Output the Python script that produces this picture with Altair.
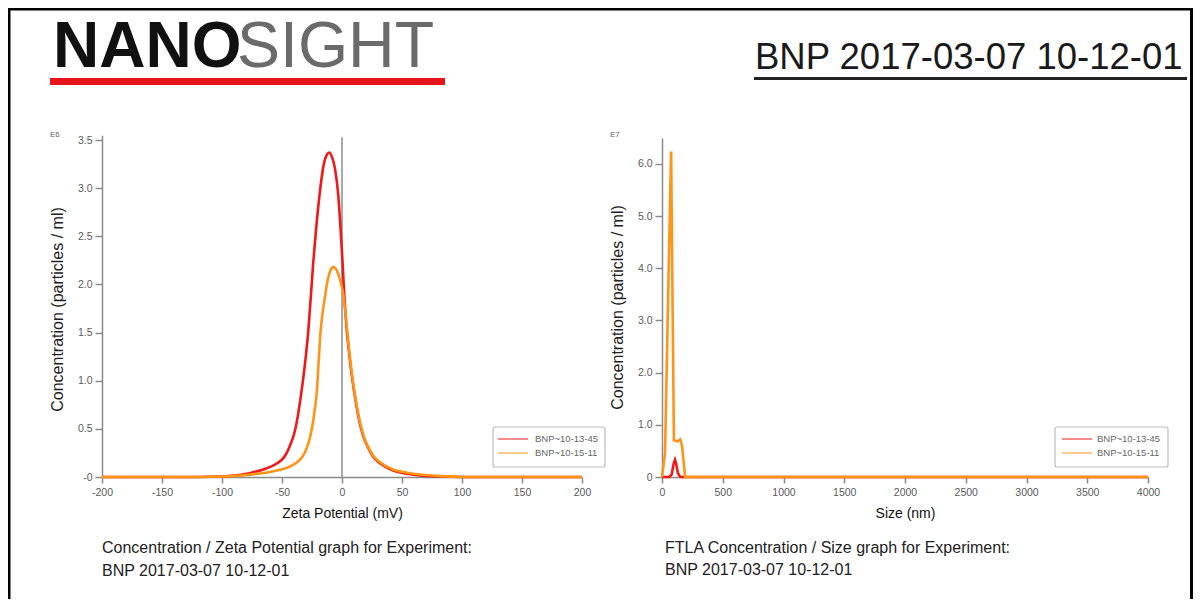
import altair as alt
import pandas as pd

FONT = "Liberation Sans"
W, H = 1185, 591

# ---------------- text content ----------------
brand_bold = "NANO"
brand_light = "SIGHT"
experiment_title = "BNP 2017-03-07 10-12-01"
caption_left = ["Concentration / Zeta Potential graph for Experiment:", "BNP 2017-03-07 10-12-01"]
caption_right = ["FTLA Concentration / Size graph for Experiment:", "BNP 2017-03-07 10-12-01"]
y_title = "Concentration (particles / ml)"
x_title_left = "Zeta Potential (mV)"
x_title_right = "Size (nm)"
exp_left = "E6"
exp_right = "E7"

series_names = ["BNP~10-13-45", "BNP~10-15-11"]
series_colors = ["#f01818", "#ff9416"]

# ---------------- ticks ----------------
zeta_ticks = [-200, -150, -100, -50, 0, 50, 100, 150, 200]
zeta_conc_ticks = [0, 0.5, 1.0, 1.5, 2.0, 2.5, 3.0, 3.5]
size_ticks = [0, 500, 1000, 1500, 2000, 2500, 3000, 3500, 4000]
size_conc_ticks = [0, 1, 2, 3, 4, 5, 6]

# ---------------- data (E6 particles/ml vs mV) ----------------
zeta_red_mv = [-200, -120, -100, -77, -65, -54.4, -48, -43.9, -39, -34.4, -30.8, -28, -26, -24,
               -21.7, -18.9, -15, -12.5, -10.5, -8.5, -5.8, -3, -1.1, 0.5, 1.7, 3, 4, 5.5, 7, 9,
               11, 13.5, 16.4, 19, 22, 26, 32, 42, 54, 75, 100, 200]
zeta_red_conc = [0, 0, 0.005, 0.04, 0.08, 0.14, 0.21, 0.31, 0.49, 0.83, 1.18, 1.53, 1.87, 2.22,
                 2.56, 2.91, 3.26, 3.35, 3.37, 3.33, 3.2, 2.91, 2.56, 2.22, 1.93, 1.68, 1.52, 1.34,
                 1.17, 0.98, 0.82, 0.64, 0.48, 0.38, 0.3, 0.21, 0.14, 0.07, 0.035, 0.008, 0, 0]

zeta_orange_mv = [-200, -120, -100, -77, -57, -45, -37.8, -33, -29.4, -27.3, -25.3, -23.8, -22.3,
                  -21, -19.7, -17.8, -16, -14.2, -13, -11.7, -9.5, -7.5, -5, -3, -1, 1, 2.5, 4,
                  5.5, 7, 9, 11, 13.5, 16.4, 19, 22, 26, 32, 42, 54, 80, 100, 200]
zeta_orange_conc = [0, 0, 0.005, 0.025, 0.06, 0.1, 0.15, 0.21, 0.3, 0.38, 0.49, 0.6, 0.74,
                    0.88, 1.15, 1.52, 1.72, 1.87, 1.97, 2.06, 2.15, 2.18, 2.16, 2.1, 2.02, 1.9,
                    1.75, 1.56, 1.37, 1.2, 1.0, 0.84, 0.66, 0.5, 0.39, 0.31, 0.22, 0.15, 0.08,
                    0.045, 0.012, 0, 0]

# ---------------- data (E7 particles/ml vs nm) ----------------
size_red_nm = [0, 60, 80, 95, 107, 117, 130, 150, 4000]
size_red_conc = [0, 0, 0.05, 0.25, 0.33, 0.25, 0.08, 0, 0]

size_orange_nm = [0, 25, 50, 75, 98, 110, 125, 150, 165, 190, 4000]
size_orange_conc = [0, 0.45, 3.4, 6.24, 0.7, 0.7, 0.68, 0.72, 0.6, 0, 0]

zero_line_mv = [0]
zero_line_top = [3.53]

# ---------------- helpers ----------------
dummy = pd.DataFrame({"k": [0]})
color_scale = alt.Scale(domain=series_names, range=series_colors)


def txt(s, x, y, size, color="#222222", weight="normal", align="left", baseline="alphabetic"):
    return alt.Chart(dummy).mark_text(
        text=s, fontSize=size, color=color, fontWeight=weight, align=align,
        baseline=baseline, font=FONT
    ).encode(x=alt.value(x), y=alt.value(y))


def box(x1, x2, y1, y2, color, **kw):
    return alt.Chart(dummy).mark_rect(color=color, **kw).encode(
        x=alt.value(x1), x2=alt.value(x2), y=alt.value(y1), y2=alt.value(y2))


def axis_x(values, title, offset):
    return alt.Axis(orient="bottom", offset=offset, values=values, grid=False,
                    labelExpr="datum.value + ''",
                    labelFont=FONT, labelFontSize=10.5, labelColor="#5a5a5a", labelPadding=4,
                    labelFlush=False, labelOverlap=False,
                    domainColor="#8c8c8c", domainWidth=1.5, tickColor="#8c8c8c", tickWidth=1.5,
                    tickSize=6, title=title, titleFont=FONT, titleFontSize=14,
                    titleFontWeight="normal", titleColor="#111111", titleY=40,
                    titleBaseline="alphabetic")


def axis_y(values, offset, zero_label, title_y):
    return alt.Axis(orient="left", offset=offset, values=values, grid=False,
                    labelExpr=f"datum.value == 0 ? '{zero_label}' : format(datum.value, '.1f')",
                    labelFont=FONT, labelFontSize=10.5, labelColor="#5a5a5a", labelPadding=3,
                    labelFlush=False, labelOverlap=False,
                    domainColor="#8c8c8c", domainWidth=1.5, tickColor="#8c8c8c", tickWidth=1.5,
                    tickSize=7, title=y_title, titleFont=FONT, titleFontSize=16,
                    titleFontWeight="normal", titleColor="#222222", titleAngle=-90,
                    titleX=-40, titleY=title_y, titleAlign="center", titleBaseline="alphabetic")


def line(xs, ys, name, xsc, ysc, xax, yax, interp):
    df = pd.DataFrame({"x": xs, "y": ys, "series": name})
    return alt.Chart(df).mark_line(strokeWidth=2.6, interpolate=interp).encode(
        x=alt.X("x:Q", scale=xsc, axis=xax),
        y=alt.Y("y:Q", scale=ysc, axis=yax),
        color=alt.Color("series:N", scale=color_scale, legend=None),
    )


def legend(x_box, y_box, w_box, h_box, x_sym1, x_sym2, x_lab, rows_y):
    df = pd.DataFrame({"series": series_names, "row": list(range(len(series_names)))})
    ysc = alt.Scale(domain=[0, 1], range=rows_y)
    frame = box(x_box, x_box + w_box, y_box, y_box + h_box, "white",
                stroke="#bdbdbd", strokeWidth=1.2, cornerRadius=2)
    sym = alt.Chart(df).mark_rule(strokeWidth=2, opacity=0.5).encode(
        x=alt.value(x_sym1), x2=alt.value(x_sym2),
        y=alt.Y("row:Q", scale=ysc, axis=None),
        color=alt.Color("series:N", scale=color_scale, legend=None))
    lab = alt.Chart(df).mark_text(align="left", baseline="middle", fontSize=9.5,
                                  color="#666666", font=FONT).encode(
        x=alt.value(x_lab), y=alt.Y("row:Q", scale=ysc, axis=None), text="series:N")
    return alt.layer(frame, alt.layer(sym, lab))


# ---------------- left panel (zeta) ----------------
zx = alt.Scale(domain=[-200, 200], range=[94, 574], nice=False, zero=False)
zy = alt.Scale(domain=[0, 3.55], range=[469, 127.2], nice=False, zero=False)
zxa = axis_x(zeta_ticks, x_title_left, -122)
zya = axis_y(zeta_conc_ticks, -94, "-0", 301)

zero_df = pd.DataFrame({"x": zero_line_mv, "y": [0], "y2": zero_line_top})
zero_rule = alt.Chart(zero_df).mark_rule(color="#8c8c8c", strokeWidth=1.5).encode(
    x=alt.X("x:Q", scale=zx, axis=zxa), y=alt.Y("y:Q", scale=zy, axis=zya), y2="y2:Q")

left_panel = alt.layer(
    zero_rule,
    line(zeta_red_mv, zeta_red_conc, series_names[0], zx, zy, zxa, zya, "monotone"),
    line(zeta_orange_mv, zeta_orange_conc, series_names[1], zx, zy, zxa, zya, "monotone"),
)

# ---------------- right panel (size) ----------------
sx = alt.Scale(domain=[0, 4000], range=[654, 1140], nice=False, zero=False)
sy = alt.Scale(domain=[0, 6.5], range=[469, 129.9], nice=False, zero=False)
sxa = axis_x(size_ticks, x_title_right, -122)
sya = axis_y(size_conc_ticks, -654, "0", 299)

right_panel = alt.layer(
    line(size_red_nm, size_red_conc, series_names[0], sx, sy, sxa, sya, "linear"),
    line(size_orange_nm, size_orange_conc, series_names[1], sx, sy, sxa, sya, "linear"),
)

# ---------------- header & annotations ----------------
decor = [
    box(0, W, 0, 2.5, "black"),
    box(0, 2.5, 0, H, "black"),
    box(W - 3, W, 0, H, "black"),
    txt(brand_bold, 45, 59, 64, color="#111111", weight="bold"),
    txt(brand_light, 229, 59, 64.5, color="#6b6b6b"),
    box(42, 437, 70, 77, "#e8141c"),
    txt(experiment_title, 747, 61, 36.5, color="#1a1a1a"),
    box(746, 1179, 69, 72, "#222222"),
    txt(exp_left, 42, 129, 8, color="#666666"),
    txt(exp_right, 602, 129, 8, color="#666666"),
    txt(caption_left[0], 94, 545, 16),
    txt(caption_left[1], 94, 568, 16),
    txt(caption_right[0], 657, 545, 16),
    txt(caption_right[1], 657, 567, 16),
]

legend_left = legend(485, 419, 112, 40, 490, 520, 527, [431, 445])
legend_right = legend(1047, 419, 113, 40, 1054, 1084, 1089, [431, 445])

chart = alt.layer(
    *decor, left_panel, right_panel, legend_left, legend_right
).resolve_scale(
    x="independent", y="independent"
).properties(
    width=W, height=H, autosize=alt.AutoSizeParams(type="none"), padding=0
).configure(background="white").configure_view(stroke=None)

chart.save("out.html", embed_options={"renderer": "svg", "actions": False})
